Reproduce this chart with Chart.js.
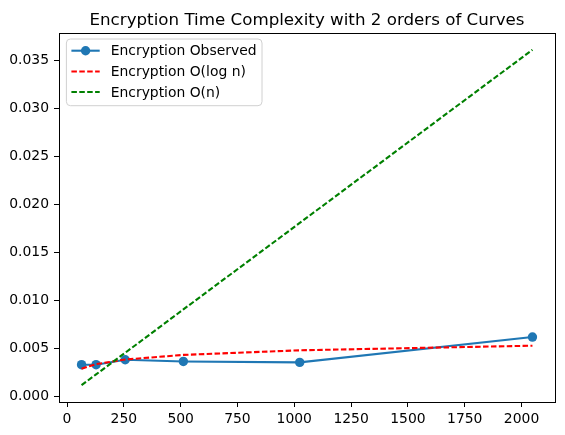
<!DOCTYPE html>
<html>
<head>
<meta charset="utf-8">
<script src="https://cdn.jsdelivr.net/npm/chart.js@4"></script>
<style>
html,body{margin:0;padding:0;background:#fff;}
#wrap{width:565px;height:435px;}
</style>
</head>
<body>
<div id="wrap"><canvas id="c" width="565" height="435"></canvas></div>
<script>
const chartTitle = 'Encryption Time Complexity with 2 orders of Curves';
const sizes = [64, 128, 256, 512, 1024, 2048];
const observed = [0.00327, 0.00327, 0.00379, 0.00361, 0.00351, 0.00615];
const logFit = [0.00285, 0.00333, 0.00381, 0.00429, 0.00477, 0.00525];
const linFit = [0.00113, 0.00226, 0.00451, 0.00903, 0.01805, 0.0361];
const seriesLabels = ['Encryption Observed', 'Encryption O(log n)', 'Encryption O(n)'];
const xTicks = [0, 250, 500, 750, 1000, 1250, 1500, 1750, 2000];
const yTicks = [0, 0.005, 0.010, 0.015, 0.020, 0.025, 0.030, 0.035];

const FONT = 'DejaVu Sans';
const pts = arr => sizes.map((x, i) => ({x: x, y: arr[i]}));

const framePlugin = {
  id: 'frame',
  afterDraw(chart) {
    const {ctx, chartArea: a} = chart;
    ctx.save();
    ctx.strokeStyle = '#000';
    ctx.lineWidth = 1;
    ctx.strokeRect(Math.round(a.left) + 0.5, Math.round(a.top) + 0.5,
                   Math.round(a.right - a.left), Math.round(a.bottom - a.top));
    // title
    ctx.fillStyle = '#000';
    ctx.font = '16.7px "' + FONT + '"';
    ctx.textAlign = 'center';
    ctx.textBaseline = 'alphabetic';
    ctx.fillText(chartTitle, (a.left + a.right) / 2, a.top - 8.3);
    // legend
    const lx = a.left + 7.4, ly = a.top + 6, lw = 195.6, lh = 66.7, r = 4;
    ctx.beginPath();
    ctx.moveTo(lx + r, ly);
    ctx.arcTo(lx + lw, ly, lx + lw, ly + lh, r);
    ctx.arcTo(lx + lw, ly + lh, lx, ly + lh, r);
    ctx.arcTo(lx, ly + lh, lx, ly, r);
    ctx.arcTo(lx, ly, lx + lw, ly, r);
    ctx.closePath();
    ctx.fillStyle = 'rgba(255,255,255,0.8)';
    ctx.fill();
    ctx.strokeStyle = '#d0d0d0';
    ctx.lineWidth = 1;
    ctx.stroke();
    const rowsY = [ly + 11.7, ly + 32.5, ly + 53];
    chart.data.datasets.forEach((ds, i) => {
      const y = rowsY[i];
      ctx.save();
      ctx.strokeStyle = ds.borderColor;
      ctx.lineWidth = ds.borderWidth;
      ctx.setLineDash(ds.borderDash || []);
      ctx.beginPath();
      ctx.moveTo(lx + 5, y);
      ctx.lineTo(lx + 33.3, y);
      ctx.stroke();
      ctx.restore();
      if (ds.pointRadius > 0) {
        ctx.beginPath();
        ctx.fillStyle = ds.pointBackgroundColor;
        ctx.arc(lx + 19.2, y, ds.pointRadius, 0, Math.PI * 2);
        ctx.fill();
      }
      ctx.fillStyle = '#000';
      ctx.font = '13.9px "' + FONT + '"';
      ctx.textAlign = 'left';
      ctx.textBaseline = 'middle';
      ctx.fillText(ds.label, lx + 44.3, y + 1);
    });
    ctx.restore();
  }
};

new Chart(document.getElementById('c'), {
  type: 'line',
  data: {
    datasets: [
      {label: seriesLabels[0], data: pts(observed), borderColor: '#1f77b4', backgroundColor: '#1f77b4',
       pointBackgroundColor: '#1f77b4', pointBorderWidth: 0, pointRadius: 4.7, borderWidth: 2.1, order: 3},
      {label: seriesLabels[1], data: pts(logFit), borderColor: '#ff0000', backgroundColor: '#ff0000',
       borderDash: [5.5, 2.4], pointRadius: 0, borderWidth: 2.1, order: 2},
      {label: seriesLabels[2], data: pts(linFit), borderColor: '#008000', backgroundColor: '#008000',
       borderDash: [5.5, 2.4], pointRadius: 0, borderWidth: 2.1, order: 1}
    ]
  },
  options: {
    responsive: false,
    animation: false,
    devicePixelRatio: 1,
    layout: {padding: {top: 33, right: 10, left: 0, bottom: 0}},
    plugins: {legend: {display: false}, title: {display: false}, tooltip: {enabled: false}},
    elements: {line: {tension: 0, fill: false}},
    scales: {
      x: {
        type: 'linear', min: -35.2, max: 2147.2,
        afterBuildTicks: s => { s.ticks = xTicks.map(v => ({value: v})); },
        afterFit: s => { s.height = 33; },
        grid: {display: true, drawOnChartArea: false, drawTicks: true, tickLength: 5, color: '#000', lineWidth: 1},
        border: {display: false},
        ticks: {color: '#000', padding: 4, font: {family: FONT, size: 13.9}, maxRotation: 0, autoSkip: false,
                callback: v => String(v)}
      },
      y: {
        type: 'linear', min: -0.00062, max: 0.03785,
        afterBuildTicks: s => { s.ticks = yTicks.map(v => ({value: v})); },
        afterFit: s => { s.width = 59; },
        grid: {display: true, drawOnChartArea: false, drawTicks: true, tickLength: 5, color: '#000', lineWidth: 1},
        border: {display: false},
        ticks: {color: '#000', padding: 5, font: {family: FONT, size: 13.9}, autoSkip: false,
                callback: v => v.toFixed(3)}
      }
    }
  },
  plugins: [framePlugin]
});
</script>
</body>
</html>
